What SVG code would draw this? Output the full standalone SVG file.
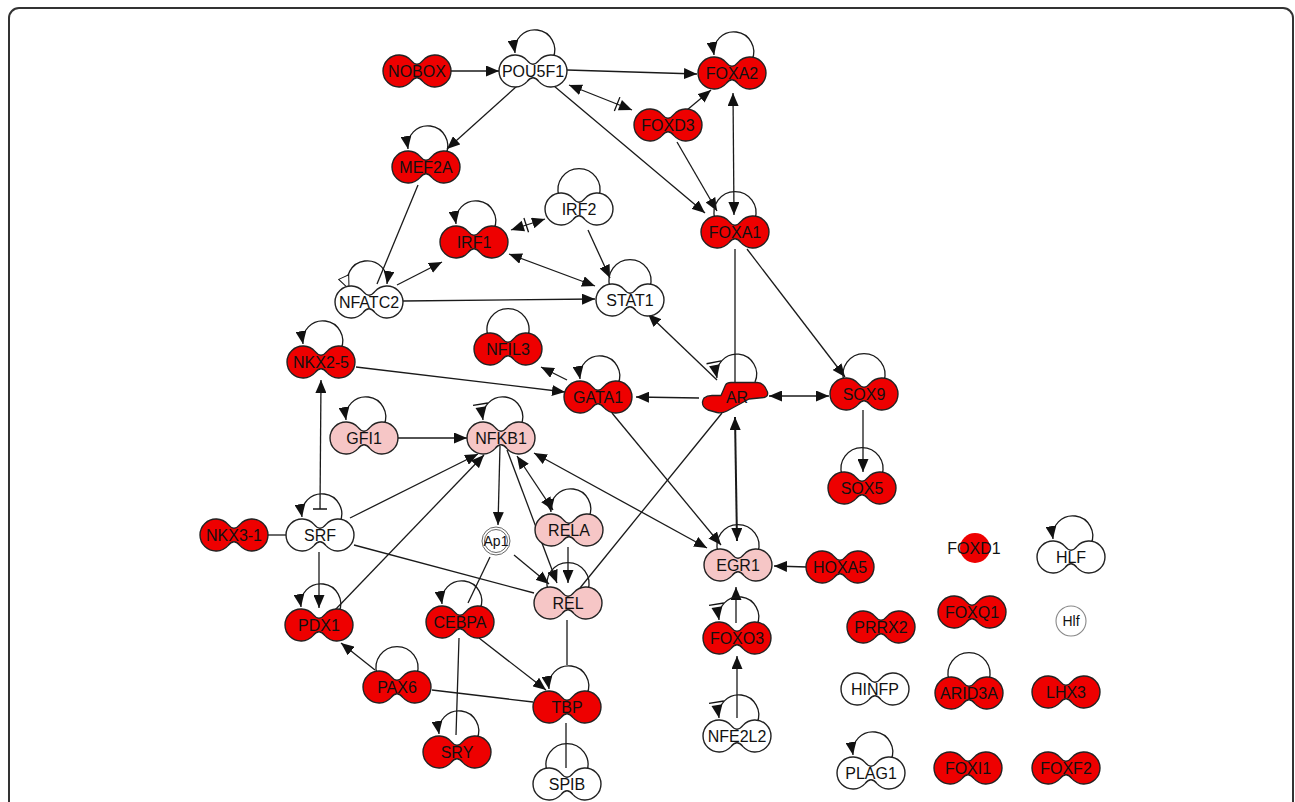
<svg xmlns="http://www.w3.org/2000/svg" xmlns:xlink="http://www.w3.org/1999/xlink" width="1295" height="802" viewBox="0 0 1295 802">
<style>
.t{font-family:"Liberation Sans",Arial,sans-serif;font-size:16px;fill:#111;text-anchor:middle}
.s{font-size:14px}
use{stroke:#222;stroke-width:1.4}
.r{fill:#ee0000}
.w{fill:#ffffff}
.p{fill:#f6c6c6}
#edges path{fill:none;stroke:#1a1a1a;stroke-width:1.3}
</style>
<defs>
<path id="pn" d="M-6,-10.6A16,16 0 1 0 -6,10.6Q0,3 6,10.6A16,16 0 1 0 6,-10.6Q0,-3 -6,-10.6Z"/>
<marker id="a" viewBox="0 0 13 11" refX="13" refY="5.5" markerWidth="13" markerHeight="11" markerUnits="userSpaceOnUse" orient="auto-start-reverse"><path d="M0,0L13,5.5L0,11z" fill="#111"/></marker>
<marker id="ab" viewBox="-6 -3 19 17" refX="13" refY="5.5" markerWidth="19" markerHeight="17" markerUnits="userSpaceOnUse" orient="auto-start-reverse"><path d="M0,0L13,5.5L0,11z" fill="#111"/><path d="M-3,-2L-3,13" stroke="#111" stroke-width="1.3"/></marker>
<marker id="tb" viewBox="0 0 4 14" refX="2" refY="7" markerWidth="4" markerHeight="14" markerUnits="userSpaceOnUse" orient="auto"><path d="M2,0V14" stroke="#111" stroke-width="1.5"/></marker>
<marker id="o" viewBox="-1 -1 15 13" refX="13" refY="5.5" markerWidth="15" markerHeight="13" markerUnits="userSpaceOnUse" orient="auto-start-reverse"><path d="M0,0L13,5.5L0,11z" fill="#fff" stroke="#111" stroke-width="1"/></marker>
</defs>
<rect x="9" y="8" width="1284" height="840" rx="10" fill="#fff" stroke="#333" stroke-width="2"/>
<g id="edges">
<path d="M451,71L499,71" marker-end="url(#a)"/>
<path d="M567,70L697,74" marker-end="url(#a)"/>
<path d="M569,85L632,110" marker-start="url(#a)" marker-end="url(#ab)"/>
<path d="M687,110L711,90" marker-end="url(#a)"/>
<path d="M517,86L447,149" marker-end="url(#a)"/>
<path d="M554,86L705,213" marker-end="url(#a)"/>
<path d="M677,142L717,211" marker-end="url(#a)"/>
<path d="M733,93L734,215" marker-start="url(#a)" marker-end="url(#a)"/>
<path d="M418,185L377,284"/>
<path d="M397,285L442,262" marker-end="url(#a)"/>
<path d="M403,301L595,299" marker-end="url(#a)"/>
<path d="M511,230L545,219" marker-start="url(#ab)" marker-end="url(#a)"/>
<path d="M509,254L595,286" marker-start="url(#a)" marker-end="url(#a)"/>
<path d="M588,230L610,278" marker-end="url(#a)"/>
<path d="M717,380L648,314" marker-end="url(#a)"/>
<path d="M735,249L735,383"/>
<path d="M747,249L845,377" marker-end="url(#a)"/>
<path d="M699,398L636,397" marker-end="url(#a)"/>
<path d="M769,396L829,396" marker-start="url(#a)" marker-end="url(#a)"/>
<path d="M863,410L863,472" marker-end="url(#a)"/>
<path d="M567,380L541,367" marker-end="url(#a)"/>
<path d="M356,367L565,392" marker-end="url(#a)"/>
<path d="M612,413L721,545" marker-end="url(#a)"/>
<path d="M722,413L580,588"/>
<path d="M735,417L737,541" style="stroke-width:2" marker-start="url(#a)" marker-end="url(#a)"/>
<path d="M807,567L774,566" marker-end="url(#a)"/>
<path d="M736,623L736,587" marker-end="url(#a)"/>
<path d="M737,718L737,656" marker-end="url(#a)"/>
<path d="M534,453L707,548" marker-start="url(#a)" marker-end="url(#a)"/>
<path d="M398,438L467,438" marker-end="url(#a)"/>
<path d="M350,518L478,454" marker-end="url(#a)"/>
<path d="M335,610L484,455" marker-end="url(#a)"/>
<path d="M500,446L498,525" marker-end="url(#a)"/>
<path d="M507,450L557,583" marker-end="url(#a)"/>
<path d="M517,456L553,510" marker-start="url(#a)" marker-end="url(#a)"/>
<path d="M568,547L568,583" marker-end="url(#a)"/>
<path d="M514,555L549,584" marker-end="url(#a)"/>
<path d="M490,557L468,603"/>
<path d="M354,545L534,593"/>
<path d="M319,552L319,608" marker-end="url(#a)"/>
<path d="M268,535L286,535"/>
<path d="M320,509L321,380" marker-start="url(#tb)" marker-end="url(#a)"/>
<path d="M479,638L546,690" marker-end="url(#a)"/>
<path d="M459,638L456,735"/>
<path d="M375,670L341,643" marker-end="url(#a)"/>
<path d="M432,690L533,702"/>
<path d="M567,620L567,665"/>
<path d="M566,723L566,768"/>
<path d="M553,58A20,20 0 1 0 515,53" marker-end="url(#a)"/>
<path d="M752,60A20,20 0 1 0 714,55" marker-end="url(#a)"/>
<path d="M446,154A20,20 0 1 0 408,149" marker-end="url(#a)"/>
<path d="M494,229A20,20 0 1 0 456,224" marker-end="url(#a)"/>
<path d="M599,196A21,21 0 1 0 559,196"/>
<path d="M755,219A21,21 0 1 0 715,219"/>
<path d="M349,289A20,20 0 1 1 387,284" marker-start="url(#o)" marker-end="url(#a)"/>
<path d="M650,287A21,21 0 1 0 610,287"/>
<path d="M341,349A20,20 0 1 0 303,344" marker-end="url(#a)"/>
<path d="M528,336A21,21 0 1 0 488,336"/>
<path d="M618,384A20,20 0 1 0 580,379" marker-end="url(#a)"/>
<path d="M755,382A20,20 0 1 0 717,378" marker-end="url(#ab)"/>
<path d="M884,381A21,21 0 1 0 844,381"/>
<path d="M384,425A20,20 0 1 0 346,420" marker-end="url(#a)"/>
<path d="M521,425A20,20 0 1 0 483,420" marker-end="url(#ab)"/>
<path d="M882,475A21,21 0 1 0 842,475"/>
<path d="M340,522A20,20 0 1 0 302,517" marker-end="url(#a)"/>
<path d="M589,517A20,20 0 1 0 551,512" marker-end="url(#a)"/>
<path d="M758,552A21,21 0 1 0 718,552"/>
<path d="M1091,544A20,20 0 1 0 1053,539" marker-end="url(#a)"/>
<path d="M588,590A21,21 0 1 0 548,590"/>
<path d="M339,612A20,20 0 1 0 301,607" marker-end="url(#a)"/>
<path d="M480,609A20,20 0 1 0 442,604" marker-end="url(#a)"/>
<path d="M757,625A20,20 0 1 0 719,620" marker-end="url(#ab)"/>
<path d="M417,674A21,21 0 1 0 377,674"/>
<path d="M587,694A20,20 0 1 0 549,689" marker-end="url(#a)"/>
<path d="M989,680A21,21 0 1 0 949,680"/>
<path d="M757,723A20,20 0 1 0 719,718" marker-end="url(#ab)"/>
<path d="M477,739A20,20 0 1 0 439,734" marker-end="url(#a)"/>
<path d="M587,771A21,21 0 1 0 547,771"/>
<path d="M891,760A20,20 0 1 0 853,755" marker-end="url(#a)"/>
</g>
<g id="n-NOBOX"><use href="#pn" x="417" y="71" class="r"/><text class="t" x="417" y="76.5">NOBOX</text></g>
<g id="n-POU5F1"><use href="#pn" x="533" y="71" class="w"/><text class="t" x="533" y="76.5">POU5F1</text></g>
<g id="n-FOXA2"><use href="#pn" x="732" y="73" class="r"/><text class="t" x="732" y="78.5">FOXA2</text></g>
<g id="n-FOXD3"><use href="#pn" x="668" y="125" class="r"/><text class="t" x="668" y="130.5">FOXD3</text></g>
<g id="n-MEF2A"><use href="#pn" x="426" y="167" class="r"/><text class="t" x="426" y="172.5">MEF2A</text></g>
<g id="n-IRF1"><use href="#pn" x="474" y="242" class="r"/><text class="t" x="474" y="247.5">IRF1</text></g>
<g id="n-IRF2"><use href="#pn" x="579" y="209" class="w"/><text class="t" x="579" y="214.5">IRF2</text></g>
<g id="n-FOXA1"><use href="#pn" x="735" y="232" class="r"/><text class="t" x="735" y="237.5">FOXA1</text></g>
<g id="n-NFATC2"><use href="#pn" x="369" y="302" class="w"/><text class="t" x="369" y="307.5">NFATC2</text></g>
<g id="n-STAT1"><use href="#pn" x="630" y="300" class="w"/><text class="t" x="630" y="305.5">STAT1</text></g>
<g id="n-NKX2-5"><use href="#pn" x="321" y="362" class="r"/><text class="t" x="321" y="367.5">NKX2-5</text></g>
<g id="n-NFIL3"><use href="#pn" x="508" y="349" class="r"/><text class="t" x="508" y="354.5">NFIL3</text></g>
<g id="n-GATA1"><use href="#pn" x="598" y="397" class="r"/><text class="t" x="598" y="402.5">GATA1</text></g>
<g id="n-AR"><path d="M704,398Q707,395.5 712,395.5L721,395.5L725.5,385Q727,382.5 731,382.5L757,382.5Q762,382.5 765,387L767.5,392Q768.5,396.5 764,397.5L749,399L727,411Q722,413.5 717,412.5L708,410Q702,407 702.5,402Q703,399.5 704,398Z" fill="#ee0000" stroke="#222" stroke-width="1.3" stroke-linejoin="round"/><text class="t" x="737" y="402.5">AR</text></g>
<g id="n-SOX9"><use href="#pn" x="864" y="394" class="r"/><text class="t" x="864" y="399.5">SOX9</text></g>
<g id="n-GFI1"><use href="#pn" x="364" y="438" class="p"/><text class="t" x="364" y="443.5">GFI1</text></g>
<g id="n-NFKB1"><use href="#pn" x="501" y="438" class="p"/><text class="t" x="501" y="443.5">NFKB1</text></g>
<g id="n-SOX5"><use href="#pn" x="862" y="488" class="r"/><text class="t" x="862" y="493.5">SOX5</text></g>
<g id="n-NKX3-1"><use href="#pn" x="234" y="535" class="r"/><text class="t" x="234" y="540.5">NKX3-1</text></g>
<g id="n-SRF"><use href="#pn" x="320" y="535" class="w"/><text class="t" x="320" y="540.5">SRF</text></g>
<g id="n-Ap1"><circle cx="496" cy="541" r="14" fill="#fff" stroke="#666" stroke-width="1"/><circle cx="496" cy="541" r="11.5" fill="none" stroke="#666" stroke-width="1"/><text class="t s" x="496" y="546">Ap1</text></g>
<g id="n-RELA"><use href="#pn" x="569" y="530" class="p"/><text class="t" x="569" y="535.5">RELA</text></g>
<g id="n-EGR1"><use href="#pn" x="738" y="565" class="p"/><text class="t" x="738" y="570.5">EGR1</text></g>
<g id="n-HOXA5"><use href="#pn" x="840" y="567" class="r"/><text class="t" x="840" y="572.5">HOXA5</text></g>
<g id="n-FOXD1"><circle cx="975" cy="548" r="15" fill="#ee0000"/><text class="t" x="974" y="553.5">FOXD1</text></g>
<g id="n-HLF"><use href="#pn" x="1071" y="557" class="w"/><text class="t" x="1071" y="562.5">HLF</text></g>
<g id="n-REL"><use href="#pn" x="568" y="603" class="p"/><text class="t" x="568" y="608.5">REL</text></g>
<g id="n-PDX1"><use href="#pn" x="319" y="625" class="r"/><text class="t" x="319" y="630.5">PDX1</text></g>
<g id="n-CEBPA"><use href="#pn" x="460" y="622" class="r"/><text class="t" x="460" y="627.5">CEBPA</text></g>
<g id="n-FOXO3"><use href="#pn" x="737" y="638" class="r"/><text class="t" x="737" y="643.5">FOXO3</text></g>
<g id="n-PRRX2"><use href="#pn" x="881" y="627" class="r"/><text class="t" x="881" y="632.5">PRRX2</text></g>
<g id="n-FOXQ1"><use href="#pn" x="972" y="612" class="r"/><text class="t" x="972" y="617.5">FOXQ1</text></g>
<g id="n-Hlf"><circle cx="1071" cy="621" r="15" fill="#fff" stroke="#888" stroke-width="1.1"/><text class="t s" x="1071" y="626">Hlf</text></g>
<g id="n-PAX6"><use href="#pn" x="397" y="687" class="r"/><text class="t" x="397" y="692.5">PAX6</text></g>
<g id="n-TBP"><use href="#pn" x="567" y="707" class="r"/><text class="t" x="567" y="712.5">TBP</text></g>
<g id="n-HINFP"><use href="#pn" x="875" y="689" class="w"/><text class="t" x="875" y="694.5">HINFP</text></g>
<g id="n-ARID3A"><use href="#pn" x="969" y="693" class="r"/><text class="t" x="969" y="698.5">ARID3A</text></g>
<g id="n-LHX3"><use href="#pn" x="1066" y="692" class="r"/><text class="t" x="1066" y="697.5">LHX3</text></g>
<g id="n-NFE2L2"><use href="#pn" x="737" y="736" class="w"/><text class="t" x="737" y="741.5">NFE2L2</text></g>
<g id="n-SRY"><use href="#pn" x="457" y="752" class="r"/><text class="t" x="457" y="757.5">SRY</text></g>
<g id="n-SPIB"><use href="#pn" x="567" y="784" class="w"/><text class="t" x="567" y="789.5">SPIB</text></g>
<g id="n-PLAG1"><use href="#pn" x="871" y="773" class="w"/><text class="t" x="871" y="778.5">PLAG1</text></g>
<g id="n-FOXI1"><use href="#pn" x="968" y="768" class="r"/><text class="t" x="968" y="773.5">FOXI1</text></g>
<g id="n-FOXF2"><use href="#pn" x="1066" y="768" class="r"/><text class="t" x="1066" y="773.5">FOXF2</text></g>
</svg>
